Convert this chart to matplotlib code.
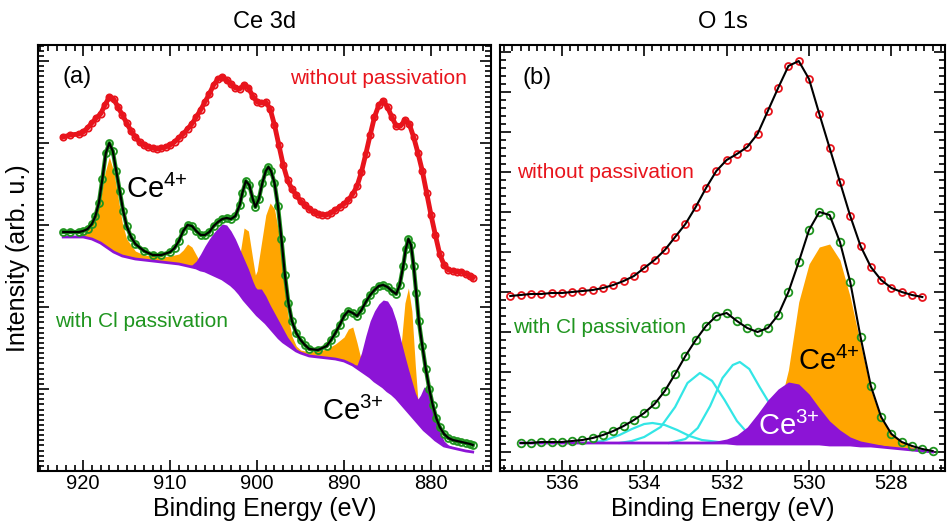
import matplotlib
matplotlib.use('Agg')
import matplotlib.pyplot as plt
from matplotlib.ticker import MultipleLocator

plt.rcParams['font.family'] = ['Liberation Sans', 'DejaVu Sans']
plt.rcParams['mathtext.default'] = 'regular'

# ---------------- (a) Ce 3d ----------------
# без пассивации (красные точки)
red_E_a = [922.3, 921.5, 920.5, 920.0, 919.5, 919.0, 918.5, 918.0, 917.5, 917.0, 916.5, 916.0,
           915.5, 915.0, 914.5, 914.0, 913.5, 913.0, 912.5, 912.0, 911.5, 911.0, 910.5, 910.0,
           909.5, 909.0, 908.5, 908.0, 907.5, 907.0, 906.5, 906.0, 905.5, 905.0, 904.5, 904.0,
           903.5, 903.0, 902.5, 902.0, 901.5, 901.0, 900.5, 900.0, 899.5, 899.0, 898.5, 898.0,
           897.5, 897.0, 896.5, 896.0, 895.5, 895.0, 894.5, 894.0, 893.5, 893.0, 892.5, 892.0,
           891.5, 891.0, 890.5, 890.0, 889.5, 889.0, 888.5, 888.0, 887.5, 887.0, 886.5, 886.0,
           885.5, 885.0, 884.5, 884.0, 883.5, 883.0, 882.5, 882.0, 881.5, 881.0, 880.5, 880.0,
           879.5, 879.0, 878.5, 878.0, 877.5, 877.0, 876.5, 876.0, 875.5, 875.2]
red_a = [334, 336, 337, 339, 343, 348, 353, 357, 366, 374, 372, 364,
         356, 348, 340, 334, 329, 326, 324, 323, 322, 323, 324, 326,
         329, 333, 337, 342, 347, 354, 361, 369, 377, 386, 392, 394,
         391, 387, 383, 382, 386, 383, 375, 369, 368, 369, 362, 346,
         326, 306, 291, 282, 276, 270, 266, 262, 259, 257, 256, 256,
         258, 261, 264, 267, 271, 277, 285, 299, 317, 336, 354, 366,
         370, 364, 354, 345, 345, 351, 347, 334, 318, 300, 278, 256,
         236, 217, 206, 201, 200, 199, 199, 197, 195, 193]

# с пассивацией Cl (зелёные точки)
green_E_a = [922.3, 921.5, 920.5, 920.0, 919.5, 919.0, 918.6, 918.2, 917.8, 917.4, 917.0, 916.6,
             916.2, 915.8, 915.4, 915.0, 914.5, 914.0, 913.0, 912.0, 911.0, 910.0, 909.5, 909.0,
             908.5, 908.0, 907.5, 907.0, 906.5, 906.0, 905.5, 905.0, 904.5, 904.0, 903.5, 903.0,
             902.5, 902.0, 901.7, 901.3, 900.9, 900.5, 900.2, 899.8, 899.4, 899.0, 898.7, 898.4,
             898.0, 897.6, 897.2, 896.8, 896.4, 896.0, 895.5, 895.0, 894.5, 894.0, 893.0, 892.0,
             891.5, 891.0, 890.5, 890.0, 889.5, 889.0, 888.5, 888.0, 887.5, 887.0, 886.5, 886.0,
             885.5, 885.0, 884.5, 884.0, 883.6, 883.2, 882.9, 882.6, 882.3, 882.0, 881.7, 881.4,
             881.0, 880.6, 880.2, 879.8, 879.4, 879.0, 878.5, 878.0, 877.5, 877.0, 876.5, 876.0,
             875.5, 875.2]
green_a = [239, 239, 239, 240, 242, 247, 255, 268, 292, 318, 328, 320,
           300, 280, 260, 245, 234, 227, 220, 216, 216, 219, 223, 230,
           240, 246, 245, 240, 236, 236, 239, 245, 249, 252, 253, 252,
           255, 266, 278, 290, 286, 272, 264, 272, 288, 300, 304, 300,
           288, 265, 232, 196, 168, 150, 138, 131, 126, 122, 121, 125,
           131, 138, 146, 155, 160, 158, 155, 161, 169, 176, 181, 185,
           186, 184, 180, 177, 186, 205, 222, 232, 226, 205, 178, 150,
           125, 102, 82, 66, 53, 44, 37, 33, 31, 30, 29, 28,
           27, 26]

# фон и компоненты разложения
comp_E_a = [922.3, 921.0, 920.0, 919.0, 918.5, 918.0, 917.5, 917.0, 916.5, 916.0, 915.5, 915.0,
            914.0, 913.0, 912.0, 911.0, 910.0, 909.0, 908.5, 908.0, 907.5, 907.0, 906.5, 906.0,
            905.5, 905.0, 904.5, 904.0, 903.5, 903.0, 902.5, 902.0, 901.5, 901.0, 900.5, 900.2,
            900.0, 899.5, 899.0, 898.5, 898.0, 897.5, 897.0, 896.5, 896.0, 895.5, 895.0, 894.0,
            893.0, 892.0, 891.0, 890.0, 889.5, 889.0, 888.5, 888.0, 887.5, 887.0, 886.5, 886.0,
            885.5, 885.0, 884.5, 884.0, 883.5, 883.0, 882.6, 882.2, 881.8, 881.5, 881.2, 880.8,
            880.4, 880.0, 879.5, 879.0, 878.5, 878.0, 877.0, 876.0, 875.2]
bg_a = [234, 234, 234, 232, 230, 228, 225, 222, 219, 217, 215, 214,
        212, 211, 210, 209, 208, 207, 206, 205, 204, 203, 201, 200,
        198, 196, 194, 192, 189, 186, 182, 177, 171, 166, 161, 158,
        156, 152, 148, 143, 138, 133, 129, 126, 123, 120, 118, 115,
        114, 113, 112, 110, 108, 106, 103, 100, 97, 94, 90, 87,
        84, 80, 77, 73, 68, 63, 59, 55, 51, 48, 45, 41,
        38, 35, 31, 28, 25, 24, 22, 20, 19]
ce3_a = [234, 234, 234, 232, 230, 228, 225, 222, 219, 217, 215, 214,
         212, 211, 210, 209, 208, 207, 206, 205, 206, 210, 217, 225,
         232, 238, 243, 247, 246, 240, 232, 222, 212, 202, 190, 184,
         182, 182, 175, 166, 158, 150, 142, 134, 128, 122, 119, 115,
         114, 113, 112, 110, 108, 106, 106, 118, 135, 150, 160, 167,
         171, 170, 163, 150, 132, 115, 102, 90, 78, 72, 76, 84,
         82, 72, 55, 40, 30, 26, 22, 20, 19]
ce4_a = [234, 235, 237, 245, 255, 272, 298, 314, 300, 274, 248, 232,
         220, 216, 215, 214, 215, 217, 221, 227, 224, 216, 208, 200,
         198, 196, 194, 192, 189, 186, 195, 215, 243, 240, 212, 196,
         200, 228, 256, 268, 262, 238, 195, 158, 135, 125, 121, 119,
         120, 122, 127, 134, 142, 144, 128, 110, 97, 94, 90, 87,
         84, 80, 77, 73, 120, 168, 183, 160, 105, 70, 45, 41,
         38, 35, 31, 28, 25, 24, 22, 20, 19]

# ---------------- (b) O 1s ----------------
red_E_b = [537.25, 537.0, 536.75, 536.5, 536.25, 536.0, 535.75, 535.5, 535.25, 535.0, 534.75,
           534.5, 534.25, 534.0, 533.75, 533.5, 533.25, 533.0, 532.75, 532.5, 532.25, 532.0,
           531.75, 531.5, 531.25, 531.0, 530.75, 530.5, 530.25, 530.0, 529.75, 529.5, 529.25,
           529.0, 528.75, 528.5, 528.25, 528.0, 527.75, 527.5, 527.25]
red_b = [156, 157, 158, 158, 159, 159, 160, 161, 162, 164, 167,
         171, 176, 184, 192, 202, 215, 228, 245, 264, 281, 292,
         298, 305, 318, 341, 364, 386, 391, 373, 338, 304, 270,
         236, 206, 185, 172, 164, 160, 157, 155]

E_b = [537.0, 536.75, 536.5, 536.25, 536.0, 535.75, 535.5, 535.25, 535.0, 534.75, 534.5,
       534.25, 534.0, 533.75, 533.5, 533.25, 533.0, 532.75, 532.5, 532.25, 532.0, 531.75,
       531.5, 531.25, 531.0, 530.75, 530.5, 530.25, 530.0, 529.75, 529.5, 529.25, 529.0,
       528.75, 528.5, 528.25, 528.0, 527.75, 527.5, 527.25, 527.0]
green_b = [9, 9, 10, 10, 10, 11, 12, 14, 17, 21, 26,
           32, 39, 48, 61, 78, 96, 112, 126, 136, 139, 131,
           124, 120, 124, 137, 160, 190, 222, 240, 237, 210, 170,
           115, 66, 35, 18, 10, 6, 3, 1]
bg_b = [9, 9, 9, 9, 9, 9, 9, 9, 9, 9, 9,
        9, 9, 9, 9, 9, 9, 9, 9, 9, 9, 8,
        8, 8, 8, 8, 8, 8, 8, 8, 7, 7, 7,
        6, 6, 5, 4, 3, 2, 1, 0]
ce3_b = [9, 9, 9, 9, 9, 9, 9, 9, 9, 9, 9,
         9, 9, 9, 9, 9, 9, 9, 10, 11, 13, 17,
         25, 38, 52, 63, 70, 68, 58, 44, 31, 22, 15,
         11, 9, 7, 5, 4, 3, 1, 0]
ce4_b = [9, 9, 9, 9, 9, 9, 9, 9, 9, 9, 9,
         9, 9, 9, 9, 9, 9, 9, 9, 9, 9, 8,
         8, 8, 15, 40, 82, 150, 188, 205, 208, 192, 155,
         108, 62, 33, 18, 10, 5, 2, 0]

cyan1_E = [535.4, 535.0, 534.6, 534.3, 534.0, 533.8, 533.5, 533.2, 532.9, 532.6, 532.2, 531.8]
cyan1 = [9, 11, 17, 23, 28, 29, 27, 22, 16, 12, 10, 9]
cyan2_E = [534.6, 534.3, 534.0, 533.6, 533.25, 532.95, 532.65, 532.35, 532.05, 531.75, 531.45, 531.1, 530.7]
cyan2 = [9, 11, 15, 25, 45, 69, 79, 71, 52, 31, 17, 11, 9]
cyan3_E = [533.4, 533.0, 532.7, 532.4, 532.1, 531.85, 531.68, 531.45, 531.2, 530.95, 530.7, 530.4, 530.0]
cyan3 = [9, 13, 24, 46, 74, 87, 90, 83, 65, 48, 30, 16, 9]

RED = '#e8141c'
GREEN = '#1f951f'
ORANGE = '#ffa500'
PURPLE = '#8c14d6'
CYAN = '#33e6e6'

fig = plt.figure(figsize=(9.48, 5.22), dpi=100)
ax1 = fig.add_axes([38 / 948, 51 / 522, 453 / 948, 426 / 522])
ax2 = fig.add_axes([500 / 948, 51 / 522, 445 / 948, 426 / 522])

# --- панель (a)
ax1.fill_between(comp_E_a, bg_a, ce4_a, color=ORANGE, lw=0, zorder=1)
ax1.fill_between(comp_E_a, bg_a, ce3_a, color=PURPLE, lw=0, zorder=2)
ax1.plot(comp_E_a, bg_a, color=PURPLE, lw=2, zorder=3)
ax1.plot(red_E_a, red_a, color=RED, lw=3.5, zorder=4)
ax1.plot(red_E_a, red_a, 'o', mfc='none', mec=RED, ms=4.5, mew=1.3, zorder=4)
ax1.plot(green_E_a, green_a, color=GREEN, lw=3, zorder=4)
ax1.plot(green_E_a, green_a, 'o', mfc='none', mec=GREEN, ms=5, mew=1.3, zorder=4)
ax1.plot(green_E_a, green_a, color='black', lw=1.6, zorder=5)

ax1.set_xlim(925.2, 873.1)
ax1.set_ylim(0, 426)
ax1.xaxis.set_major_locator(MultipleLocator(10))
ax1.xaxis.set_minor_locator(MultipleLocator(1))
ax1.yaxis.set_major_locator(MultipleLocator(82))
ax1.yaxis.set_minor_locator(MultipleLocator(82 / 16))

ax1.text(0.055, 0.925, '(a)', transform=ax1.transAxes, fontsize=17, va='center')
ax1.text(0.556, 0.922, 'without passivation', transform=ax1.transAxes, fontsize=15,
         color=RED, va='center')
ax1.text(0.194, 0.641, 'Ce$^{4{+}}$', transform=ax1.transAxes, fontsize=21, va='baseline')
ax1.text(0.0375, 0.35, 'with Cl passivation', transform=ax1.transAxes, fontsize=15,
         color=GREEN, va='center')
ax1.text(0.627, 0.12, 'Ce$^{3{+}}$', transform=ax1.transAxes, fontsize=21, va='baseline')
ax1.set_ylabel('Intensity (arb. u.)', fontsize=18, labelpad=6)
ax1.set_title('Ce 3d', fontsize=17, pad=12)

# --- панель (b)
for ce, ci in [(cyan1_E, cyan1), (cyan2_E, cyan2), (cyan3_E, cyan3)]:
    ax2.plot(ce, ci, color=CYAN, lw=1.6, zorder=1)
ax2.fill_between(E_b, bg_b, ce4_b, color=ORANGE, lw=0, zorder=2)
ax2.fill_between(E_b, bg_b, ce3_b, color=PURPLE, lw=0, zorder=2)
ax2.plot(E_b, bg_b, color=PURPLE, lw=2, zorder=3)
ax2.plot(red_E_b, red_b, 'o', mfc='none', mec=RED, ms=5, mew=1.3, zorder=4)
ax2.plot(red_E_b, red_b, color='black', lw=1.5, zorder=5)
ax2.plot(E_b, green_b, 'o', mfc='none', mec=GREEN, ms=5.5, mew=1.3, zorder=4)
ax2.plot(E_b, green_b, color='black', lw=1.5, zorder=5)

ax2.set_xlim(537.5, 526.7)
ax2.set_ylim(-19, 407)
ax2.xaxis.set_major_locator(MultipleLocator(2))
ax2.xaxis.set_minor_locator(MultipleLocator(0.2))
ax2.yaxis.set_major_locator(MultipleLocator(40))
ax2.yaxis.set_minor_locator(MultipleLocator(8))

ax2.text(0.05, 0.922, '(b)', transform=ax2.transAxes, fontsize=17, va='center')
ax2.text(0.038, 0.70, 'without passivation', transform=ax2.transAxes, fontsize=15,
         color=RED, va='center')
ax2.text(0.03, 0.336, 'with Cl passivation', transform=ax2.transAxes, fontsize=15,
         color=GREEN, va='center')
ax2.text(0.669, 0.237, 'Ce$^{4{+}}$', transform=ax2.transAxes, fontsize=21, va='baseline', zorder=6)
ax2.text(0.579, 0.0845, 'Ce$^{3{+}}$', transform=ax2.transAxes, fontsize=21, va='baseline',
         color='white', zorder=6)
ax2.set_title('O 1s', fontsize=17, pad=12)

for ax in (ax1, ax2):
    ax.tick_params(which='both', direction='in', top=True, right=True,
                   labelleft=False, labelsize=14.5, width=1.2, pad=2)
    ax.tick_params(which='major', length=8)
    ax.tick_params(which='minor', length=4)
    for s in ax.spines.values():
        s.set_linewidth(1.5)
    ax.set_xlabel('Binding Energy (eV)', fontsize=18, labelpad=3)

fig.savefig('out.png', dpi=100)
